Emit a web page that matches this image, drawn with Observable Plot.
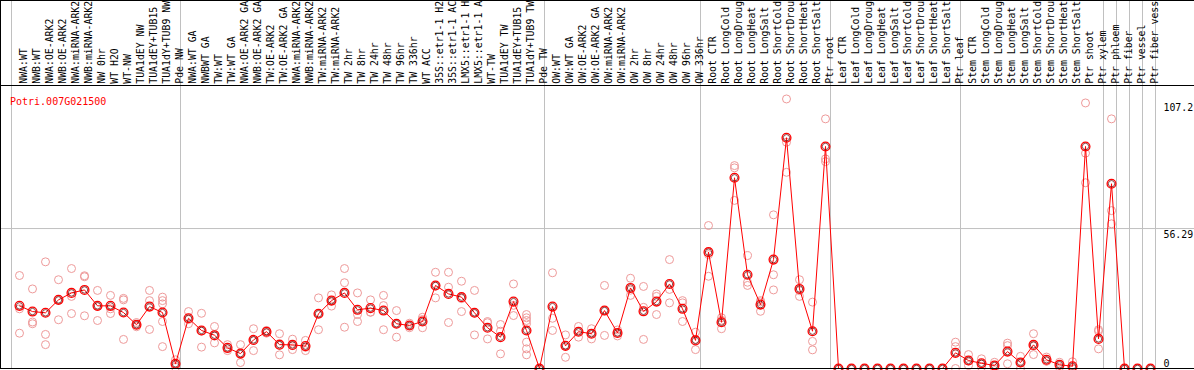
<!DOCTYPE html>
<html><head><meta charset="utf-8">
<script src="https://cdn.jsdelivr.net/npm/d3@7"></script>
<script src="https://cdn.jsdelivr.net/npm/@observablehq/plot@0.6"></script>
<style>html,body{margin:0;padding:0;background:#fff;} #chart svg{display:block;}</style>
</head><body><div id="chart"></div>
<script>
const geneId = "Potri.007G021500";
const labels = [
  "NWA:WT","NWB:WT","NWA:OE-ARK2","NWB:OE-ARK2","NWA:miRNA-ARK2","NWB:miRNA-ARK2","NW 0hr","WT H2O","WT-NW",
  "TUA1dEY NW","TUA1dEY+TUB15","TUA1dY+TUB9 NW","Pde NW",
  "NWA:WT GA","NWBWT GA","TW:WT","TW:WT GA","NWA:OE-ARK2 GA","NWB:OE-ARK2 GA","TW:OE-ARK2","TW:OE-ARK2 GA",
  "NWA:miRNA-ARK2","NWB:miRNA-ARK2","TW:miRNA-ARK2","TW:miRNA-ARK2",
  "TW 2hr","TW 8hr","TW 24hr","TW 48hr","TW 96hr","TW 336hr","WT ACC",
  "35S::etr1-1 H2","35S::etr1-1 AC","LMX5::etr1-1 H","LMX5::etr1-1 A","WT-TW",
  "TUA1dEY TW","TUA1dEY+TUB15","TUA1dY+TUB9 TW","Pde TW",
  "OW:WT","OW:WT GA","OW:OE-ARK2","OW:OE-ARK2 GA","OW:miRNA-ARK2","OW:miRNA-ARK2",
  "OW 2hr","OW 8hr","OW 24hr","OW 48hr","OW 96hr","OW 336hr",
  "Root CTR","Root LongCold","Root LongDroug","Root LongHeat","Root LongSalt","Root ShortCold","Root ShortDrou","Root ShortHeat","Root ShortSalt","Ptr root",
  "Leaf CTR","Leaf LongCold","Leaf LongDroug","Leaf LongHeat","Leaf LongSalt","Leaf ShortCold","Leaf ShortDrou","Leaf ShortHeat","Leaf ShortSalt","Ptr leaf",
  "Stem CTR","Stem LongCold","Stem LongDroug","Stem LongHeat","Stem LongSalt","Stem ShortCold","Stem ShortDrou","Stem ShortHeat","Stem ShortSalt","Ptr shoot",
  "Ptr xylem","Ptr phloem","Ptr fiber","Ptr vessel","Ptr fiber vess"
];
const means = [
  25.2,22.9,22.4,27.6,30.4,31.6,25.2,25.2,22.5,17.6,24.9,22.5,1.9,
  20.2,15.3,13.4,8.3,6.0,11.5,14.8,9.6,9.5,9.0,22.0,27.3,30.4,23.6,24.3,23.3,18.0,17.3,18.9,33.4,30.0,28.7,22.4,16.4,12.6,26.9,15.3,0,
  24.9,9.1,14.8,14.0,23.3,14.3,32.4,23.0,26.9,34.0,24.0,11.3,
  46.8,18.6,76.7,37.7,25.7,43.8,92.8,32.0,15.0,89.3,
  0,0,0,0,0,0,0,0,0,6.3,
  3.2,2.1,1.2,6.8,2.4,9.5,3.5,1.5,0.9,89.3,
  11.9,74.3,0,0,0
];
const replicates = [
  [37.4,24.0,14.2],[32.0,18.7,18.0],[42.9,13.7,9.6],[35.7,27.5,19.6],[40.2,29.0,22.1],[37.3,36.9,21.2],
  [31.4,25.0,19.3],[29.4,24.0,22.1],[28.2,27.6,11.7],[18.5,17.6,16.8],[31.4,27.3,15.7],[28.7,27.3,26.0,18.9,8.8],[3.5,1.8,0.5],
  [22.9,19.7,18.0],[22.2,15.0,8.6],[16.9,13.0,10.3],[9.6,8.0,7.2],[9.6,6.0,2.4],[16.0,11.3,7.2],[15.3,15.0,14.2],[14.0,9.3,5.5],
  [11.8,9.2,7.6],[11.3,8.5,7.2],[28.4,22.0,15.6],[29.6,27.2,25.1],[40.2,34.5,16.6],[30.4,21.7,18.9],[27.6,22.6,22.7],
  [29.4,25.3,15.6],[23.3,18.0,12.6],[18.2,17.3,16.4],[20.6,19.7,16.4],[38.7,33.1,28.4],[38.7,32.7,18.5],[35.1,28.1,22.9],
  [31.4,22.3,13.5],[18.9,18.4,11.9],[17.7,15.0,5.9],[34.0,25.4,21.3],[21.7,20.4,19.3,18.0,10.6,7.9,5.5],[0,0,0],
  [38.5,20.2,15.3],[13.5,9.3,4.5],[16.9,14.9,12.6],[16.0,14.1,11.9],[33.4,23.2,13.3],[15.5,14.3,13.1],
  [36.3,31.5,29.4],[33.0,24.6,11.7],[30.0,29.0,21.7],[43.8,31.8,26.4],[27.3,26.4,18.9],[14.6,11.7,7.6],
  [57.5,45.8,37.1],[20.4,19.4,16.0],[81.6,80.7,67.6],[45.4,34.7,33.4],[27.3,26.8,23.0],[61.8,37.7,31.6],
  [108.4,91.0,78.9],[35.7,31.3,29.0],[26.7,10.9,7.5],[100.4,84.3,83.2],
  [0,0,0],[0,0,0],[0,0,0],[0,0,0],[0,0,0],[0,0,0],[0,0,0],[0,0,0],[0,0,0],[10.6,8.8,0],
  [5.6,3.0,1.2],[3.9,1.8,0.6],[2.5,1.1,0],[10.2,9.2,1.9],[4.9,2.3,0],[14.0,9.0,5.6],[4.6,3.0,2.9],[2.5,1.5,0.5],[2.7,0,0],[106.8,86.6,74.7],
  [15.6,15.0,7.9],[100.4,63.5,58.2],[0,0,0],[0,0,0],[0,0,0]
];
const groupEnds = [-1, 12, 40, 52, 62, 72, 83, 84, 85, 86, 87];
const yTicks = [0, 56.29, 107.2];
const tickSlot = labels.length; // tick labels sit in the slot after the last category

const W = 1194, H = 370, plotBottom = 368, headerPx = 85;
const yTop = 148;
const headerLevel = yTop * (plotBottom - headerPx) / plotBottom;

const repRows = replicates.flatMap((arr, i) => arr.map(v => ({i, v})));
const meanRows = means.map((v, i) => ({i, v}));

const font = "DejaVu Sans Mono, monospace";
const chart = Plot.plot({
  width: W, height: H,
  marginTop: 0, marginBottom: H - plotBottom, marginLeft: 0, marginRight: 0,
  x: {type: "linear", domain: [0, labels.length - 1], range: [19, 19 + 13 * (labels.length - 1)], axis: null},
  y: {domain: [0, yTop], axis: null},
  style: {fontFamily: font, fontSize: "10px", background: "#fff"},
  marks: [
    Plot.ruleX(groupEnds, {x: d => d, dx: d => 0, stroke: "#c0c0c0", strokeWidth: 1, dx: 5}),
    Plot.ruleY([yTicks[1]], {stroke: "#c0c0c0", strokeWidth: 1}),
    Plot.ruleY([headerLevel], {stroke: "#000", strokeWidth: 1}),
    Plot.text(labels, {x: (d, i) => i, text: d => d, frameAnchor: "top", dy: 83.3, rotate: -90, textAnchor: "start", fill: "#000", fontSize: 9.85}),
    Plot.dot(repRows, {x: "i", y: "v", r: 4, stroke: "#ee9a9a", fill: "none", strokeWidth: 1}),
    Plot.line(meanRows, {x: "i", y: "v", stroke: "#ff0000", strokeWidth: 1}),
    Plot.dot(meanRows, {x: "i", y: "v", r: 4.4, stroke: "#ff0000", fill: "none", strokeWidth: 1.3}),
    Plot.dot(meanRows, {x: "i", y: "v", r: 3.2, stroke: "#5a0000", fill: "none", strokeWidth: 0.7}),
    Plot.text([geneId], {frameAnchor: "top-left", dx: 9.5, dy: 97, textAnchor: "start", fill: "#ff0000"}),
    Plot.text(yTicks.filter(d => d > 0), {x: () => tickSlot, y: d => d, text: d => String(d), textAnchor: "start", dy: 6, fill: "#000", fontSize: 9.85}),
    Plot.text(yTicks.filter(d => d === 0), {x: () => tickSlot, y: d => d, text: d => String(d), textAnchor: "start", dy: -5, fill: "#000"}),
    Plot.frame({stroke: "#000", strokeWidth: 1})
  ]
});
document.getElementById("chart").appendChild(chart);
</script>
</body></html>
